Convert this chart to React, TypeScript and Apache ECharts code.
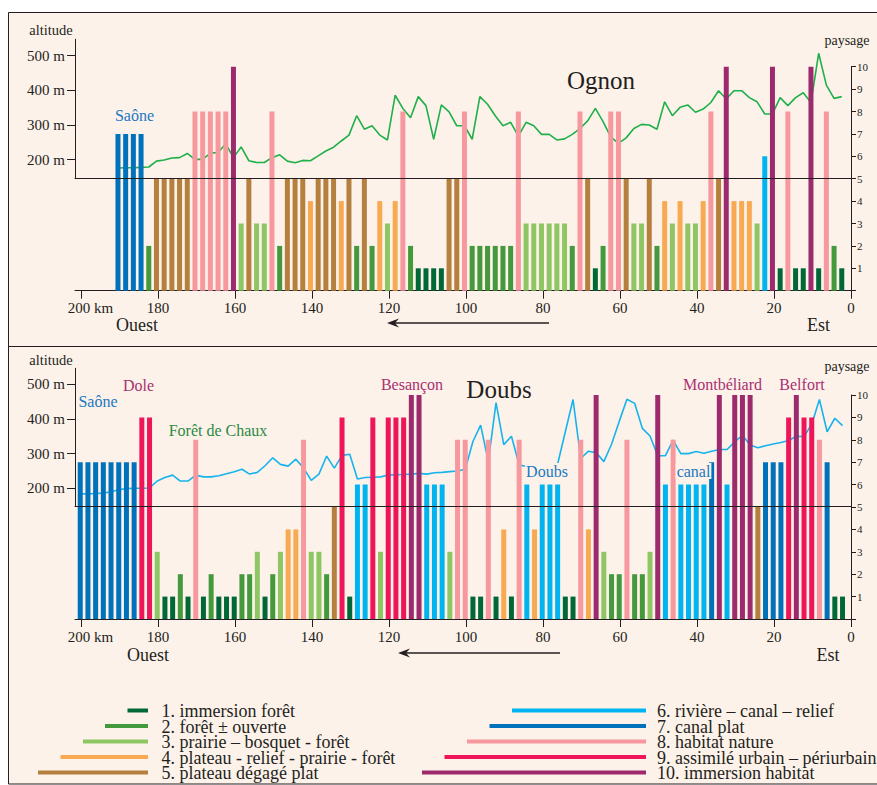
import React, { useEffect, useRef } from "react";
import * as echarts from "echarts";

const FONT = '"Liberation Serif", "Times New Roman", serif';
const CREAM = "#fdf2ea";
const INK = "#231f20";

const classColors = ["#006837", "#43993b", "#8dc662", "#f8aa52", "#b5803e", "#00b5ef", "#0072bc", "#f6989d", "#ee1559", "#9e2a6e"];
const classLabels = [
  "1. immersion forêt",
  "2. forêt ± ouverte",
  "3. prairie – bosquet - forêt",
  "4. plateau - relief - prairie - forêt",
  "5. plateau dégagé plat",
  "6. rivière – canal – relief",
  "7. canal plat",
  "8. habitat nature",
  "9. assimilé urbain – périurbain",
  "10. immersion habitat",
];

const kmTicks = [0, 20, 40, 60, 80, 100, 120, 140, 160, 180, 200];
const altitudeTicks = [200, 300, 400, 500];

// Ognon : km from the eastern end, landscape class of each section, altitude (m)
const ognonKm = [
  190.4, 188.4, 186.4, 184.4, 182.4, 180.4, 178.4, 176.4, 174.4, 172.4,
  170.4, 168.4, 166.4, 164.4, 162.4, 160.4, 158.4, 156.4, 154.4, 152.4,
  150.4, 148.4, 146.4, 144.4, 142.4, 140.4, 138.4, 136.4, 134.4, 132.4,
  130.4, 128.4, 126.4, 124.4, 122.4, 120.4, 118.4, 116.4, 114.4, 112.4,
  110.4, 108.4, 106.4, 104.4, 102.4, 100.4, 98.4, 96.4, 94.4, 92.4,
  90.4, 88.4, 86.4, 84.4, 82.4, 80.4, 78.4, 76.4, 74.4, 72.4,
  70.4, 68.4, 66.4, 64.4, 62.4, 60.4, 58.4, 56.4, 54.4, 52.4,
  50.4, 48.4, 46.4, 44.4, 42.4, 40.4, 38.4, 36.4, 34.4, 32.4,
  30.4, 28.4, 26.4, 24.4, 22.4, 20.4, 18.4, 16.4, 14.4, 12.4,
  10.4, 8.4, 6.4, 4.4, 2.4,
];
const ognonClass = [
  7, 7, 7, 7, 2, 5, 5, 5, 5, 5,
  8, 8, 8, 8, 8, 10, 3, 5, 3, 3,
  8, 2, 5, 5, 5, 4, 5, 5, 5, 4,
  5, 2, 5, 2, 4, 3, 4, 8, 2, 1,
  1, 1, 1, 5, 5, 8, 2, 2, 2, 2,
  2, 2, 8, 3, 3, 3, 3, 3, 3, 2,
  8, 5, 1, 2, 8, 8, 5, 3, 3, 5,
  2, 4, 3, 4, 3, 3, 4, 8, 5, 10,
  4, 4, 4, 3, 6, 10, 1, 8, 1, 1,
  10, 1, 8, 2, 1,
];
const ognonAltitude = [
  176, 177, 177, 178, 179, 196, 199, 205, 206, 218,
  201, 201, 219, 221, 246, 206, 237, 197, 192, 192,
  206, 214, 196, 191, 198, 197, 211, 225, 236, 254,
  271, 327, 288, 298, 271, 257, 386, 348, 321, 382,
  356, 259, 358, 338, 298, 298, 259, 382, 360, 327,
  298, 308, 268, 308, 298, 273, 273, 257, 260, 273,
  290, 312, 348, 310, 266, 247, 263, 290, 302, 300,
  288, 367, 327, 351, 358, 337, 346, 365, 399, 375,
  399, 399, 379, 367, 332, 332, 379, 356, 379, 393,
  365, 507, 415, 377, 382,
];

// Doubs
const doubsKm = [
  200.2, 198.2, 196.2, 194.2, 192.2, 190.2, 188.2, 186.2, 184.2, 182.2,
  180.2, 178.2, 176.2, 174.2, 172.2, 170.2, 168.2, 166.2, 164.2, 162.2,
  160.2, 158.2, 156.2, 154.2, 152.2, 150.2, 148.2, 146.2, 144.2, 142.2,
  140.2, 138.2, 136.2, 134.2, 132.2, 130.2, 128.2, 126.2, 124.2, 122.2,
  120.2, 118.2, 116.2, 114.2, 112.2, 110.2, 108.2, 106.2, 104.2, 102.2,
  100.2, 98.2, 96.2, 94.2, 92.2, 90.2, 88.2, 86.2, 84.2, 82.2,
  80.2, 78.2, 76.2, 74.2, 72.2, 70.2, 68.2, 66.2, 64.2, 62.2,
  60.2, 58.2, 56.2, 54.2, 52.2, 50.2, 48.2, 46.2, 44.2, 42.2,
  40.2, 38.2, 36.2, 34.2, 32.2, 30.2, 28.2, 26.2, 24.2, 22.2,
  20.2, 18.2, 16.2, 14.2, 12.2, 10.2, 8.2, 6.2, 4.2, 2.2,
];
const doubsClass = [
  7, 7, 7, 7, 7, 7, 7, 7, 9, 9,
  3, 1, 1, 2, 1, 8, 1, 2, 1, 1,
  1, 2, 2, 3, 1, 2, 3, 4, 4, 8,
  3, 3, 2, 5, 9, 1, 6, 6, 9, 3,
  9, 9, 9, 10, 10, 6, 6, 6, 3, 8,
  8, 1, 1, 8, 1, 4, 1, 8, 6, 4,
  6, 6, 6, 1, 1, 8, 4, 10, 3, 2,
  2, 8, 2, 2, 3, 10, 6, 8, 6, 6,
  6, 6, 7, 10, 6, 10, 10, 10, 5, 7,
  7, 7, 9, 10, 9, 9, 8, 7, 1, 1,
];
const doubsAltitude = [
  184, 184, 185, 186, 190, 196, 199, 200, 200, 201,
  221, 231, 238, 221, 221, 238, 233, 233, 236, 242,
  248, 255, 241, 246, 265, 288, 269, 264, 284, 259,
  223, 241, 293, 258, 295, 298, 227, 231, 232, 233,
  238, 239, 240, 241, 243, 241, 245, 246, 248, 250,
  255, 335, 382, 277, 447, 326, 350, 268, 262, 266,
  267, 268, 270, 363, 456, 286, 307, 303, 277, 327,
  393, 457, 445, 373, 351, 294, 294, 339, 300, 300,
  306, 301, 307, 312, 312, 334, 353, 325, 317, 323,
  328, 332, 338, 350, 349, 385, 456, 363, 402, 381,
];

type PanelCfg = {
  km: number[];
  cls: number[];
  alt: number[];
  lineColor: string;
  barTop: number;
  altTop: number;
  altBottom: number;
  altMin: number;
  altMax: number;
};

const GRID_LEFT = 75;
const GRID_WIDTH = 776;
const KM_MAX = 201.56;

function buildPanel(cfg: PanelCfg, g: number) {
  const textBase = { fontFamily: FONT, color: INK };
  const grids = [
    { left: GRID_LEFT, width: GRID_WIDTH, top: cfg.barTop, height: 224 },
    { left: GRID_LEFT, width: GRID_WIDTH, top: cfg.altTop, height: cfg.altBottom - cfg.altTop },
  ];
  const xAxes = [
    {
      gridIndex: g,
      type: "value",
      min: 0,
      max: KM_MAX,
      inverse: true,
      axisLine: { show: true, onZero: false, lineStyle: { color: INK, width: 1 } },
      axisTick: { show: true, customValues: kmTicks, length: 8, lineStyle: { color: INK, width: 1 } },
      axisLabel: {
        show: true,
        customValues: kmTicks,
        margin: 10,
        fontSize: 15,
        ...textBase,
        formatter: (v: number) => (v === 200 ? "{k|200 km}" : String(v)),
        rich: { k: { fontSize: 15, fontFamily: FONT, color: INK, padding: [0, 0, 0, 19] } },
      },
      splitLine: { show: false },
    },
    {
      gridIndex: g + 1,
      type: "value",
      min: 0,
      max: KM_MAX,
      inverse: true,
      z: 10,
      axisLine: { show: true, onZero: false, lineStyle: { color: INK, width: 1 } },
      axisTick: { show: false },
      axisLabel: { show: false },
      splitLine: { show: false },
    },
  ];
  const yAxes = [
    {
      gridIndex: g,
      type: "value",
      position: "right",
      min: 0,
      max: 10,
      interval: 1,
      axisLine: { show: true, onZero: false, lineStyle: { color: INK, width: 1 } },
      axisTick: { show: true, length: 5, lineStyle: { color: INK, width: 1 } },
      axisLabel: {
        show: true,
        margin: 6,
        fontSize: 11,
        ...textBase,
        formatter: (v: number) => (v === 0 ? "" : String(v)),
      },
      splitLine: { show: false },
    },
    {
      gridIndex: g + 1,
      type: "value",
      position: "left",
      min: cfg.altMin,
      max: cfg.altMax,
      axisLine: { show: true, onZero: false, lineStyle: { color: INK, width: 1 } },
      axisTick: { show: true, customValues: altitudeTicks, length: 8, lineStyle: { color: INK, width: 1 } },
      axisLabel: { show: true, customValues: altitudeTicks, margin: 10, fontSize: 15, ...textBase, formatter: "{value} m" },
      splitLine: { show: false },
    },
  ];
  const series = [
    {
      type: "line",
      xAxisIndex: g + 1,
      yAxisIndex: g + 1,
      data: cfg.km.map((k, i) => [k, cfg.alt[i]]),
      symbol: "none",
      lineStyle: { color: cfg.lineColor, width: 1.6 },
      z: 2,
      silent: true,
      clip: false,
    },
    {
      type: "bar",
      xAxisIndex: g,
      yAxisIndex: g,
      barWidth: 5,
      z: 3,
      silent: true,
      data: cfg.km.map((k, i) => ({
        value: [k, cfg.cls[i]],
        itemStyle: { color: classColors[cfg.cls[i] - 1] },
      })),
    },
  ];
  return { grids, xAxes, yAxes, series };
}

function txt(x: number, y: number, text: string, opts: any = {}) {
  const { size = 15, color = INK, align = "center", scaleX = 1, bg, lineHeight } = opts;
  return {
    type: "text",
    x,
    y,
    scaleX,
    z: 100,
    silent: true,
    style: {
      text,
      fill: color,
      fontSize: size,
      fontFamily: FONT,
      align,
      verticalAlign: "middle",
      ...(lineHeight ? { lineHeight } : {}),
      ...(bg ? { backgroundColor: bg, padding: [0, 1, 0, 1] } : {}),
    },
  };
}

function arrow(x1: number, tip: number, y: number) {
  return [
    { type: "line", z: 50, silent: true, shape: { x1, y1: y, x2: tip + 5, y2: y }, style: { stroke: INK, lineWidth: 1.5 } },
    {
      type: "polygon",
      z: 50,
      silent: true,
      shape: { points: [[tip, y], [tip + 12, y - 4.5], [tip + 8, y], [tip + 12, y + 4.5]] },
      style: { fill: INK },
    },
  ];
}

export default function App() {
  const ref = useRef<HTMLDivElement>(null);
  useEffect(() => {
    if (!ref.current) return;
    const chart = echarts.init(ref.current, null, { renderer: "svg", width: 877, height: 785 });
    const top = buildPanel(
      { km: ognonKm, cls: ognonClass, alt: ognonAltitude, lineColor: "#1fb04a", barTop: 66.7, altTop: 39.3, altBottom: 178.3, altMin: 146.4, altMax: 547.3 },
      0
    );
    const bottom = buildPanel(
      { km: doubsKm, cls: doubsClass, alt: doubsAltitude, lineColor: "#17b3ec", barTop: 395, altTop: 368.3, altBottom: 506.3, altMin: 148.1, altMax: 546.1 },
      2
    );

    const legendY = [710.5, 726, 741.5, 757, 772.5];
    const leftStarts = [127.5, 105, 83, 60.5, 38];
    const rightStarts = [512, 489.5, 467, 444.5, 422];
    const legendEls: any[] = [];
    for (let i = 0; i < 5; i++) {
      legendEls.push({
        type: "line",
        silent: true,
        z: 50,
        shape: { x1: leftStarts[i], y1: legendY[i], x2: 148, y2: legendY[i] },
        style: { stroke: classColors[i], lineWidth: 4 },
      });
      legendEls.push(txt(161.5, legendY[i] + 0.5, classLabels[i], { align: "left", size: 18, lineHeight: 15 }));
      legendEls.push({
        type: "line",
        silent: true,
        z: 50,
        shape: { x1: rightStarts[i], y1: legendY[i], x2: 646, y2: legendY[i] },
        style: { stroke: classColors[i + 5], lineWidth: 4 },
      });
      legendEls.push(txt(657, legendY[i] + 0.5, classLabels[i + 5], { align: "left", size: 18, lineHeight: 15 }));
    }

    const place = "#a8306f";
    const water = "#1b78c2";
    const graphic: any[] = [
      { type: "rect", z: -10, silent: true, shape: { x: 8.5, y: 12.5, width: 880, height: 771.5 }, style: { fill: CREAM, stroke: INK, lineWidth: 1 } },
      { type: "line", z: -9, silent: true, shape: { x1: 8, y1: 346.5, x2: 877, y2: 346.5 }, style: { stroke: INK, lineWidth: 1 } },
      // Ognon panel
      txt(51, 30, "altitude", { size: 14.5 }),
      txt(847, 40.5, "paysage", { size: 14 }),
      txt(601, 80.5, "Ognon", { size: 25 }),
      txt(134.5, 115.5, "Saône", { size: 16, color: water }),
      txt(137, 324.5, "Ouest", { size: 18 }),
      txt(818.5, 324.5, "Est", { size: 18 }),
      ...arrow(549, 387, 323),
      // Doubs panel
      txt(51, 360, "altitude", { size: 14.5 }),
      txt(847, 366, "paysage", { size: 14 }),
      txt(499, 389.5, "Doubs", { size: 25 }),
      txt(98, 401.5, "Saône", { size: 16, color: water }),
      txt(138.5, 385, "Dole", { size: 16, color: place }),
      txt(218, 430, "Forêt de Chaux", { size: 16, color: "#2b8a43" }),
      txt(412, 384, "Besançon", { size: 16, color: place }),
      txt(722.5, 384, "Montbéliard", { size: 16, color: place }),
      txt(802, 384, "Belfort", { size: 16, color: place }),
      txt(547, 471, "Doubs", { size: 16, color: water, bg: CREAM }),
      txt(693.5, 471, "canal", { size: 16, color: water, bg: CREAM }),
      txt(148, 654.5, "Ouest", { size: 18 }),
      txt(828, 654.5, "Est", { size: 18 }),
      ...arrow(560, 398, 653),
      ...legendEls,
    ];

    chart.setOption({
      animation: false,
      backgroundColor: "#ffffff",
      grid: [...top.grids, ...bottom.grids],
      xAxis: [...top.xAxes, ...bottom.xAxes],
      yAxis: [...top.yAxes, ...bottom.yAxes],
      series: [...top.series, ...bottom.series],
      graphic,
    });
    return () => chart.dispose();
  }, []);
  return <div ref={ref} style={{ position: "absolute", left: 0, top: 0, width: 877, height: 785 }} />;
}
